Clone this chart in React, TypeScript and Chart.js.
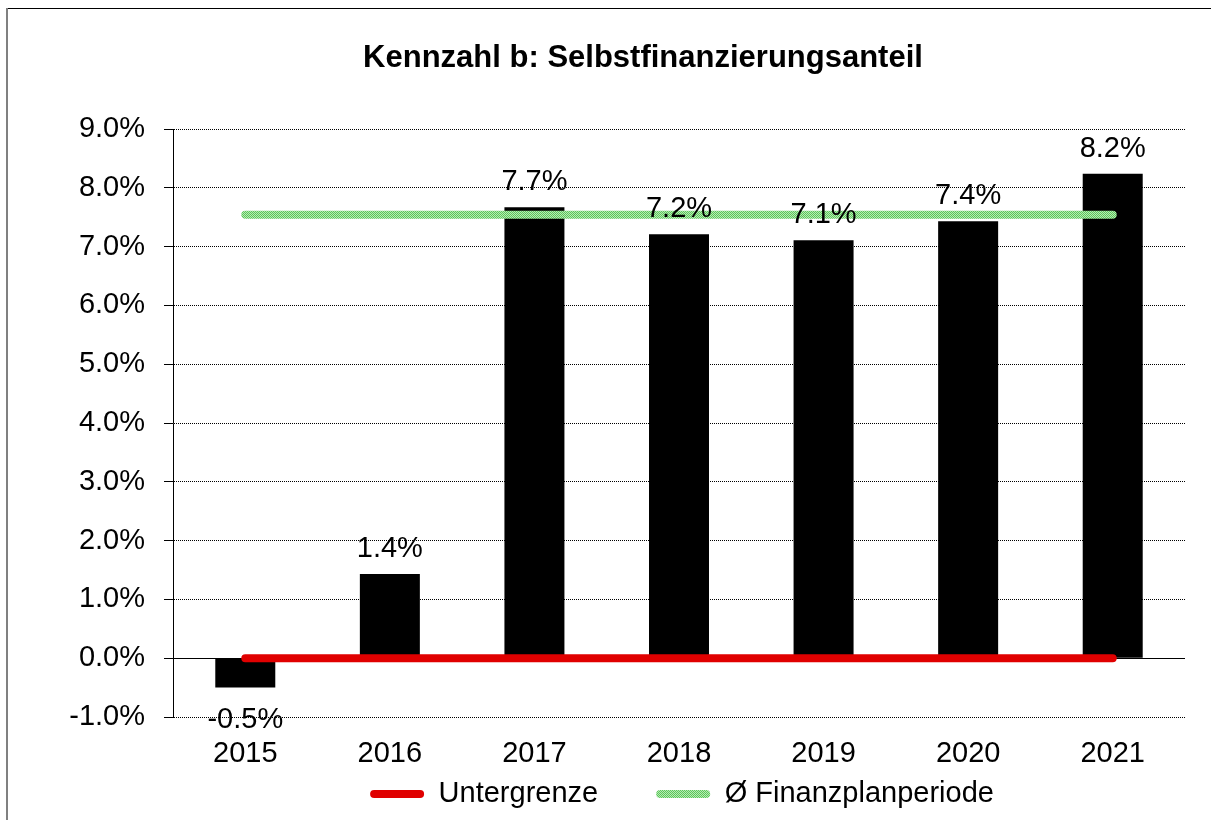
import React, { useEffect, useRef } from "react";
import { Chart, registerables } from "chart.js";

Chart.register(...registerables);

// ---- data ----
const categories = ["2015", "2016", "2017", "2018", "2019", "2020", "2021"];
const selfFinancingShare = [-0.5, 1.43, 7.67, 7.21, 7.11, 7.43, 8.24];
const lowerLimit = [0, 0, 0, 0, 0, 0, 0];
const planPeriodAverage = [7.54, 7.54, 7.54, 7.54, 7.54, 7.54, 7.54];
const yMin = -1;
const yMax = 9;
const yStep = 1;

const titleText = "Kennzahl b: Selbstfinanzierungsanteil";
const lowerLimitLabel = "Untergrenze";
const averageLabel = "Ø Finanzplanperiode";

const FONT = "'Liberation Sans', Arial, Helvetica, sans-serif";

function makeGreenPattern(): CanvasPattern | string {
  const c = document.createElement("canvas");
  c.width = 2;
  c.height = 2;
  const g = c.getContext("2d");
  if (!g) return "#8fd88f";
  g.fillStyle = "#b6ebb4";
  g.fillRect(0, 0, 2, 2);
  g.fillStyle = "#5cc65a";
  g.fillRect(0, 0, 1, 1);
  g.fillRect(1, 1, 1, 1);
  const p = g.createPattern(c, "repeat");
  return p || "#8fd88f";
}

export default function App() {
  const ref = useRef<HTMLCanvasElement | null>(null);

  useEffect(() => {
    document.body.style.margin = "0";
    const canvas = ref.current;
    if (!canvas) return;
    const green = makeGreenPattern();
    const red = "#e00000";

    const framePlugin = {
      id: "frame",
      beforeDraw(chart: any) {
        const ctx = chart.ctx;
        ctx.save();
        ctx.fillStyle = "#ffffff";
        ctx.fillRect(0, 0, chart.width, chart.height);
        ctx.fillStyle = "#000000";
        ctx.fillRect(6, 8, chart.width - 6, 1);
        ctx.fillStyle = "#808080";
        ctx.fillRect(6, 8, 2, chart.height - 8);
        ctx.restore();
      },
    };

    const zeroLinePlugin = {
      id: "zeroLine",
      beforeDatasetsDraw(chart: any) {
        const y = chart.scales.y;
        const area = chart.chartArea;
        const py = Math.round(y.getPixelForValue(0)) + 0.5;
        const ctx = chart.ctx;
        ctx.save();
        ctx.strokeStyle = "#000";
        ctx.lineWidth = 1;
        ctx.setLineDash([]);
        ctx.beginPath();
        ctx.moveTo(area.left - 9, py);
        ctx.lineTo(area.right, py);
        ctx.stroke();
        ctx.restore();
      },
    };

    const layoutTweakPlugin = {
      id: "layoutTweak",
      afterLayout(chart: any) {
        const lg = chart.legend;
        if (lg) {
          lg.left += 39;
          lg.right += 39;
        }
        const xs = chart.scales.x;
        if (xs) {
          // let the tick labels overflow the (deliberately thin) axis box
          xs.bottom = chart.height;
        }
        const ys = chart.scales.y;
        if (ys) {
          ys.left = 0;
        }
      },
    };

    const labelPlugin = {
      id: "barLabels",
      afterDatasetsDraw(chart: any) {
        const idx = chart.data.datasets.findIndex((d: any) => d.type === "bar");
        if (idx < 0) return;
        const meta = chart.getDatasetMeta(idx);
        const data = chart.data.datasets[idx].data as number[];
        const ctx = chart.ctx;
        ctx.save();
        ctx.font = `29px ${FONT}`;
        ctx.fillStyle = "#000";
        ctx.textAlign = "center";
        ctx.textBaseline = "alphabetic";
        meta.data.forEach((el: any, i: number) => {
          const v = data[i];
          const txt = v.toFixed(1) + "%";
          const y = v >= 0 ? el.y - 17 : el.y + 40;
          ctx.fillText(txt, el.x, y);
        });
        ctx.restore();
      },
    };

    const chart = new Chart(canvas, {
      type: "bar",
      data: {
        labels: categories,
        datasets: [
          {
            type: "line",
            label: lowerLimitLabel,
            data: lowerLimit,
            borderColor: red,
            backgroundColor: red,
            borderWidth: 8,
            borderCapStyle: "round",
            pointRadius: 0,
            fill: false,
            order: 1,
          } as any,
          {
            type: "line",
            label: averageLabel,
            data: planPeriodAverage,
            borderColor: green,
            backgroundColor: green,
            borderWidth: 8,
            borderCapStyle: "round",
            pointRadius: 0,
            fill: false,
            order: 2,
          } as any,
          {
            type: "bar",
            label: "Selbstfinanzierungsanteil",
            data: selfFinancingShare,
            backgroundColor: "#000000",
            borderWidth: 0,
            categoryPercentage: 1,
            barPercentage: 0.415,
            order: 3,
          } as any,
        ],
      },
      options: {
        responsive: false,
        animation: false,
        devicePixelRatio: 1,
        events: [],
        layout: { padding: { left: 101, right: 26, top: 0, bottom: 1.5 } },
        scales: {
          x: {
            grid: { display: false, drawTicks: false },
            border: { display: false },
            ticks: {
              color: "#000",
              font: { family: FONT, size: 29 },
              padding: 19.5,
              maxRotation: 0,
              autoSkip: false,
            },
            afterFit(scale: any) {
              scale.height = 4.5;
            },
          },
          y: {
            min: yMin,
            max: yMax,
            grid: {
              color: "#000",
              lineWidth: 1,
              tickLength: 9,
              drawTicks: true,
            },
            border: { display: true, color: "#000", width: 1, dash: [1, 1] },
            ticks: {
              stepSize: yStep,
              color: "#000",
              font: { family: FONT, size: 29 },
              padding: 19,
              callback: (v: any) => Number(v).toFixed(1) + "%",
            },
            afterFit(scale: any) {
              scale.width = 72;
            },
          },
        },
        plugins: {
          title: {
            display: true,
            text: titleText,
            color: "#000",
            font: { family: FONT, size: 31, weight: "bold" },
            padding: { top: 39.7, bottom: 52.1 },
          },
          legend: {
            display: true,
            position: "bottom",
            labels: {
              color: "#000",
              font: { family: FONT, size: 29 },
              boxWidth: 54,
              boxHeight: 8,
              padding: 58,
              useBorderRadius: true,
              borderRadius: 4,
              filter: (item: any) => item.text !== "Selbstfinanzierungsanteil",
              generateLabels: (ch: any) => {
                const items = Chart.defaults.plugins.legend.labels.generateLabels(ch);
                return items.map((it: any) => ({
                  ...it,
                  fillStyle: it.strokeStyle,
                  lineWidth: 0,
                }));
              },
            },
          },
          tooltip: { enabled: false },
        },
      },
      plugins: [framePlugin, zeroLinePlugin, layoutTweakPlugin, labelPlugin],
    } as any);

    return () => {
      chart.destroy();
    };
  }, []);

  return (
    <div style={{ width: 1211, height: 820, position: "relative" }}>
      <canvas ref={ref} width={1211} height={820} style={{ display: "block" }} />
    </div>
  );
}
